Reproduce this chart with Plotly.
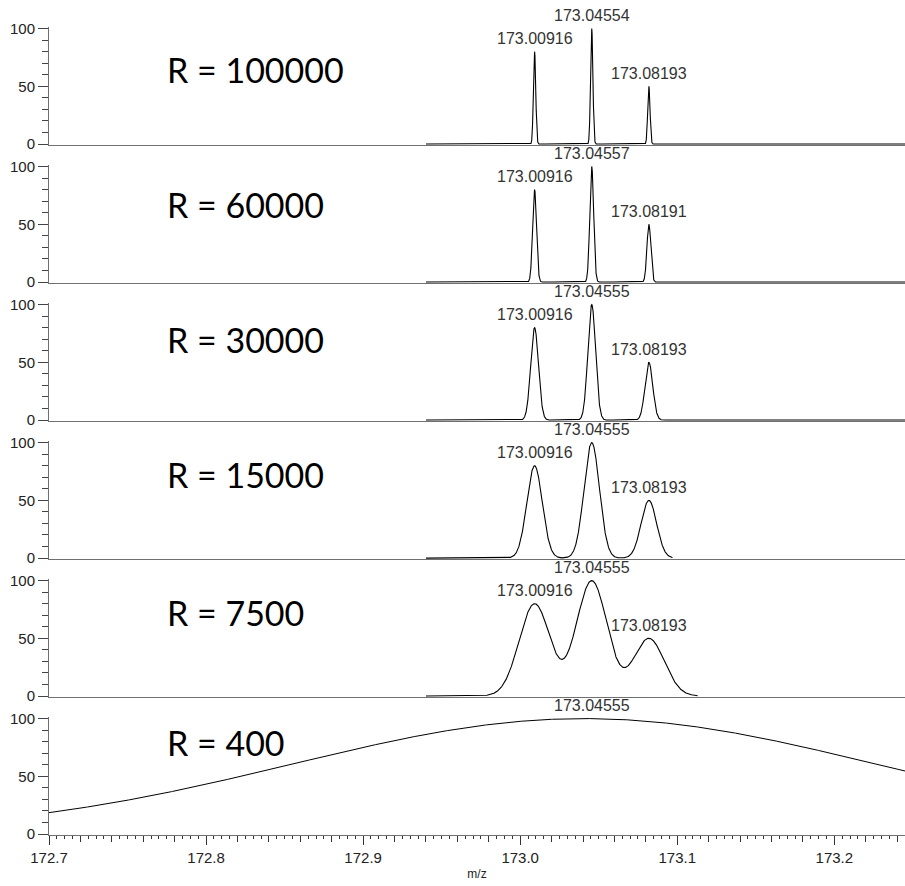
import numpy as np
import plotly.graph_objects as go

# ---------------- data ----------------
resolutions = [100000, 60000, 30000, 15000, 7500, 400]
panel_titles = ["R = 100000", "R = 60000", "R = 30000", "R = 15000", "R = 7500", "R = 400"]
peak_mz = [173.00916, 173.04555, 173.08193]
peak_intensity = [80, 100, 50]
label_mz = [
    [173.00916, 173.04554, 173.08193],
    [173.00916, 173.04557, 173.08191],
    [173.00916, 173.04555, 173.08193],
    [173.00916, 173.04555, 173.08193],
    [173.00916, 173.04555, 173.08193],
    [173.04555],
]
label_text = [
    ["173.00916", "173.04554", "173.08193"],
    ["173.00916", "173.04557", "173.08191"],
    ["173.00916", "173.04555", "173.08193"],
    ["173.00916", "173.04555", "173.08193"],
    ["173.00916", "173.04555", "173.08193"],
    ["173.04555"],
]
profile_start = [172.94, 172.94, 172.94, 172.94, 172.94, 172.7]
profile_end = [173.245, 173.245, 173.245, 173.097, 173.113, 173.245]
x_tick_vals = [172.7, 172.8, 172.9, 173.0, 173.1, 173.2]
x_tick_text = ["172.7", "172.8", "172.9", "173.0", "173.1", "173.2"]
y_tick_vals = [0, 50, 100]

# ---------------- layout constants ----------------
XR = [172.7, 173.245]
YR = [-0.8, 101.0]
n = len(resolutions)
plot_h = 886 - 7 - 51
panel_frac = 1.0 / n
top_frac = (YR[1] - YR[0]) * 1.155 / plot_h
title_y = [65, 67, 70, 72, 72, 79]
AXC = "#707070"
TXT = "#222222"


def ax(k):
    return "" if k == 1 else str(k)


def profile(x, R):
    y = np.zeros_like(x)
    for m, h in zip(peak_mz, peak_intensity):
        fwhm = m / R
        y += h * np.exp(-4 * np.log(2) * (x - m) ** 2 / fwhm ** 2)
    return 100 * y / y.max()


fig = go.Figure()
annotations = []
layout = {}
for i, R in enumerate(resolutions):
    k = i + 1
    s = ax(k)
    step = 0.00005 if R > 1000 else 0.0005
    x = np.arange(profile_start[i], profile_end[i] + step / 2, step)
    y = profile(x, R)
    fig.add_trace(go.Scatter(x=x, y=y, mode="lines",
                             line=dict(color="black", width=1.1 if R > 1000 else 1.0),
                             xaxis=f"x{s}", yaxis=f"y{s}", showlegend=False,
                             hoverinfo="skip"))
    bottom = (n - 1 - i) * panel_frac
    layout[f"yaxis{s}"] = dict(
        domain=[bottom, bottom + top_frac], range=YR, anchor=f"x{s}",
        tickvals=y_tick_vals, ticks="outside", ticklen=10, tickcolor="#444",
        tickfont=dict(family="Liberation Sans, Arial", size=15, color=TXT),
        minor=dict(dtick=10, tick0=0, ticks="outside", ticklen=6, tickcolor="#444", showgrid=False),
        showline=True, linecolor=AXC, linewidth=1, showgrid=False, zeroline=False,
        fixedrange=True,
    )
    xa = dict(range=XR, anchor=f"y{s}", domain=[0, 1], showline=True, linecolor=AXC,
              linewidth=1, showgrid=False, zeroline=False)
    if k < n:
        xa.update(matches=f"x{n}", showticklabels=False, ticks="")
    else:
        xa.update(tickvals=x_tick_vals, ticktext=x_tick_text, ticks="outside", ticklen=9,
                  tickcolor="#333",
                  tickfont=dict(family="Liberation Sans, Arial", size=15, color=TXT),
                  minor=dict(dtick=0.005, tick0=172.7, ticks="outside", ticklen=3,
                             tickcolor="#333", showgrid=False),
                  title=dict(text="m/z", standoff=4,
                             font=dict(family="Liberation Sans, Arial", size=12, color=TXT)))
    layout[f"xaxis{s}"] = xa

    # resolution label
    annotations.append(dict(text=panel_titles[i], xref=f"x{s} domain", yref=f"y{s}",
                            x=(165 - 49) / 856, y=title_y[i], xanchor="left", yanchor="middle",
                            showarrow=False,
                            font=dict(family="Lato, Carlito, Calibri", size=34, color="black")))
    # peak labels
    for mz, txt in zip(label_mz[i], label_text[i]):
        j = int(np.argmin(np.abs(x - mz)))
        annotations.append(dict(text=txt, xref=f"x{s}", yref=f"y{s}", x=mz, y=float(y[j]),
                                xanchor="center", yanchor="middle", yshift=13, showarrow=False,
                                font=dict(family="Liberation Sans, Arial", size=16, color="#333")))

# overlay axis for the medium (0.02) ticks on the bottom axis
fig.add_trace(go.Scatter(x=[XR[0]], y=[None], xaxis="x7", yaxis=f"y{n}", showlegend=False,
                         hoverinfo="skip"))
layout["xaxis7"] = dict(overlaying=f"x{n}", anchor=f"y{n}", range=XR, tick0=172.7, dtick=0.02,
                        ticks="outside", ticklen=6, tickcolor="#333", showticklabels=False,
                        showline=False, showgrid=False, zeroline=False)

fig.update_layout(**layout)
fig.update_layout(
    width=905, height=886,
    margin=dict(l=49, r=0, t=7, b=51),
    paper_bgcolor="white", plot_bgcolor="white",
    annotations=annotations,
    showlegend=False,
)
fig.write_html("out.html")
